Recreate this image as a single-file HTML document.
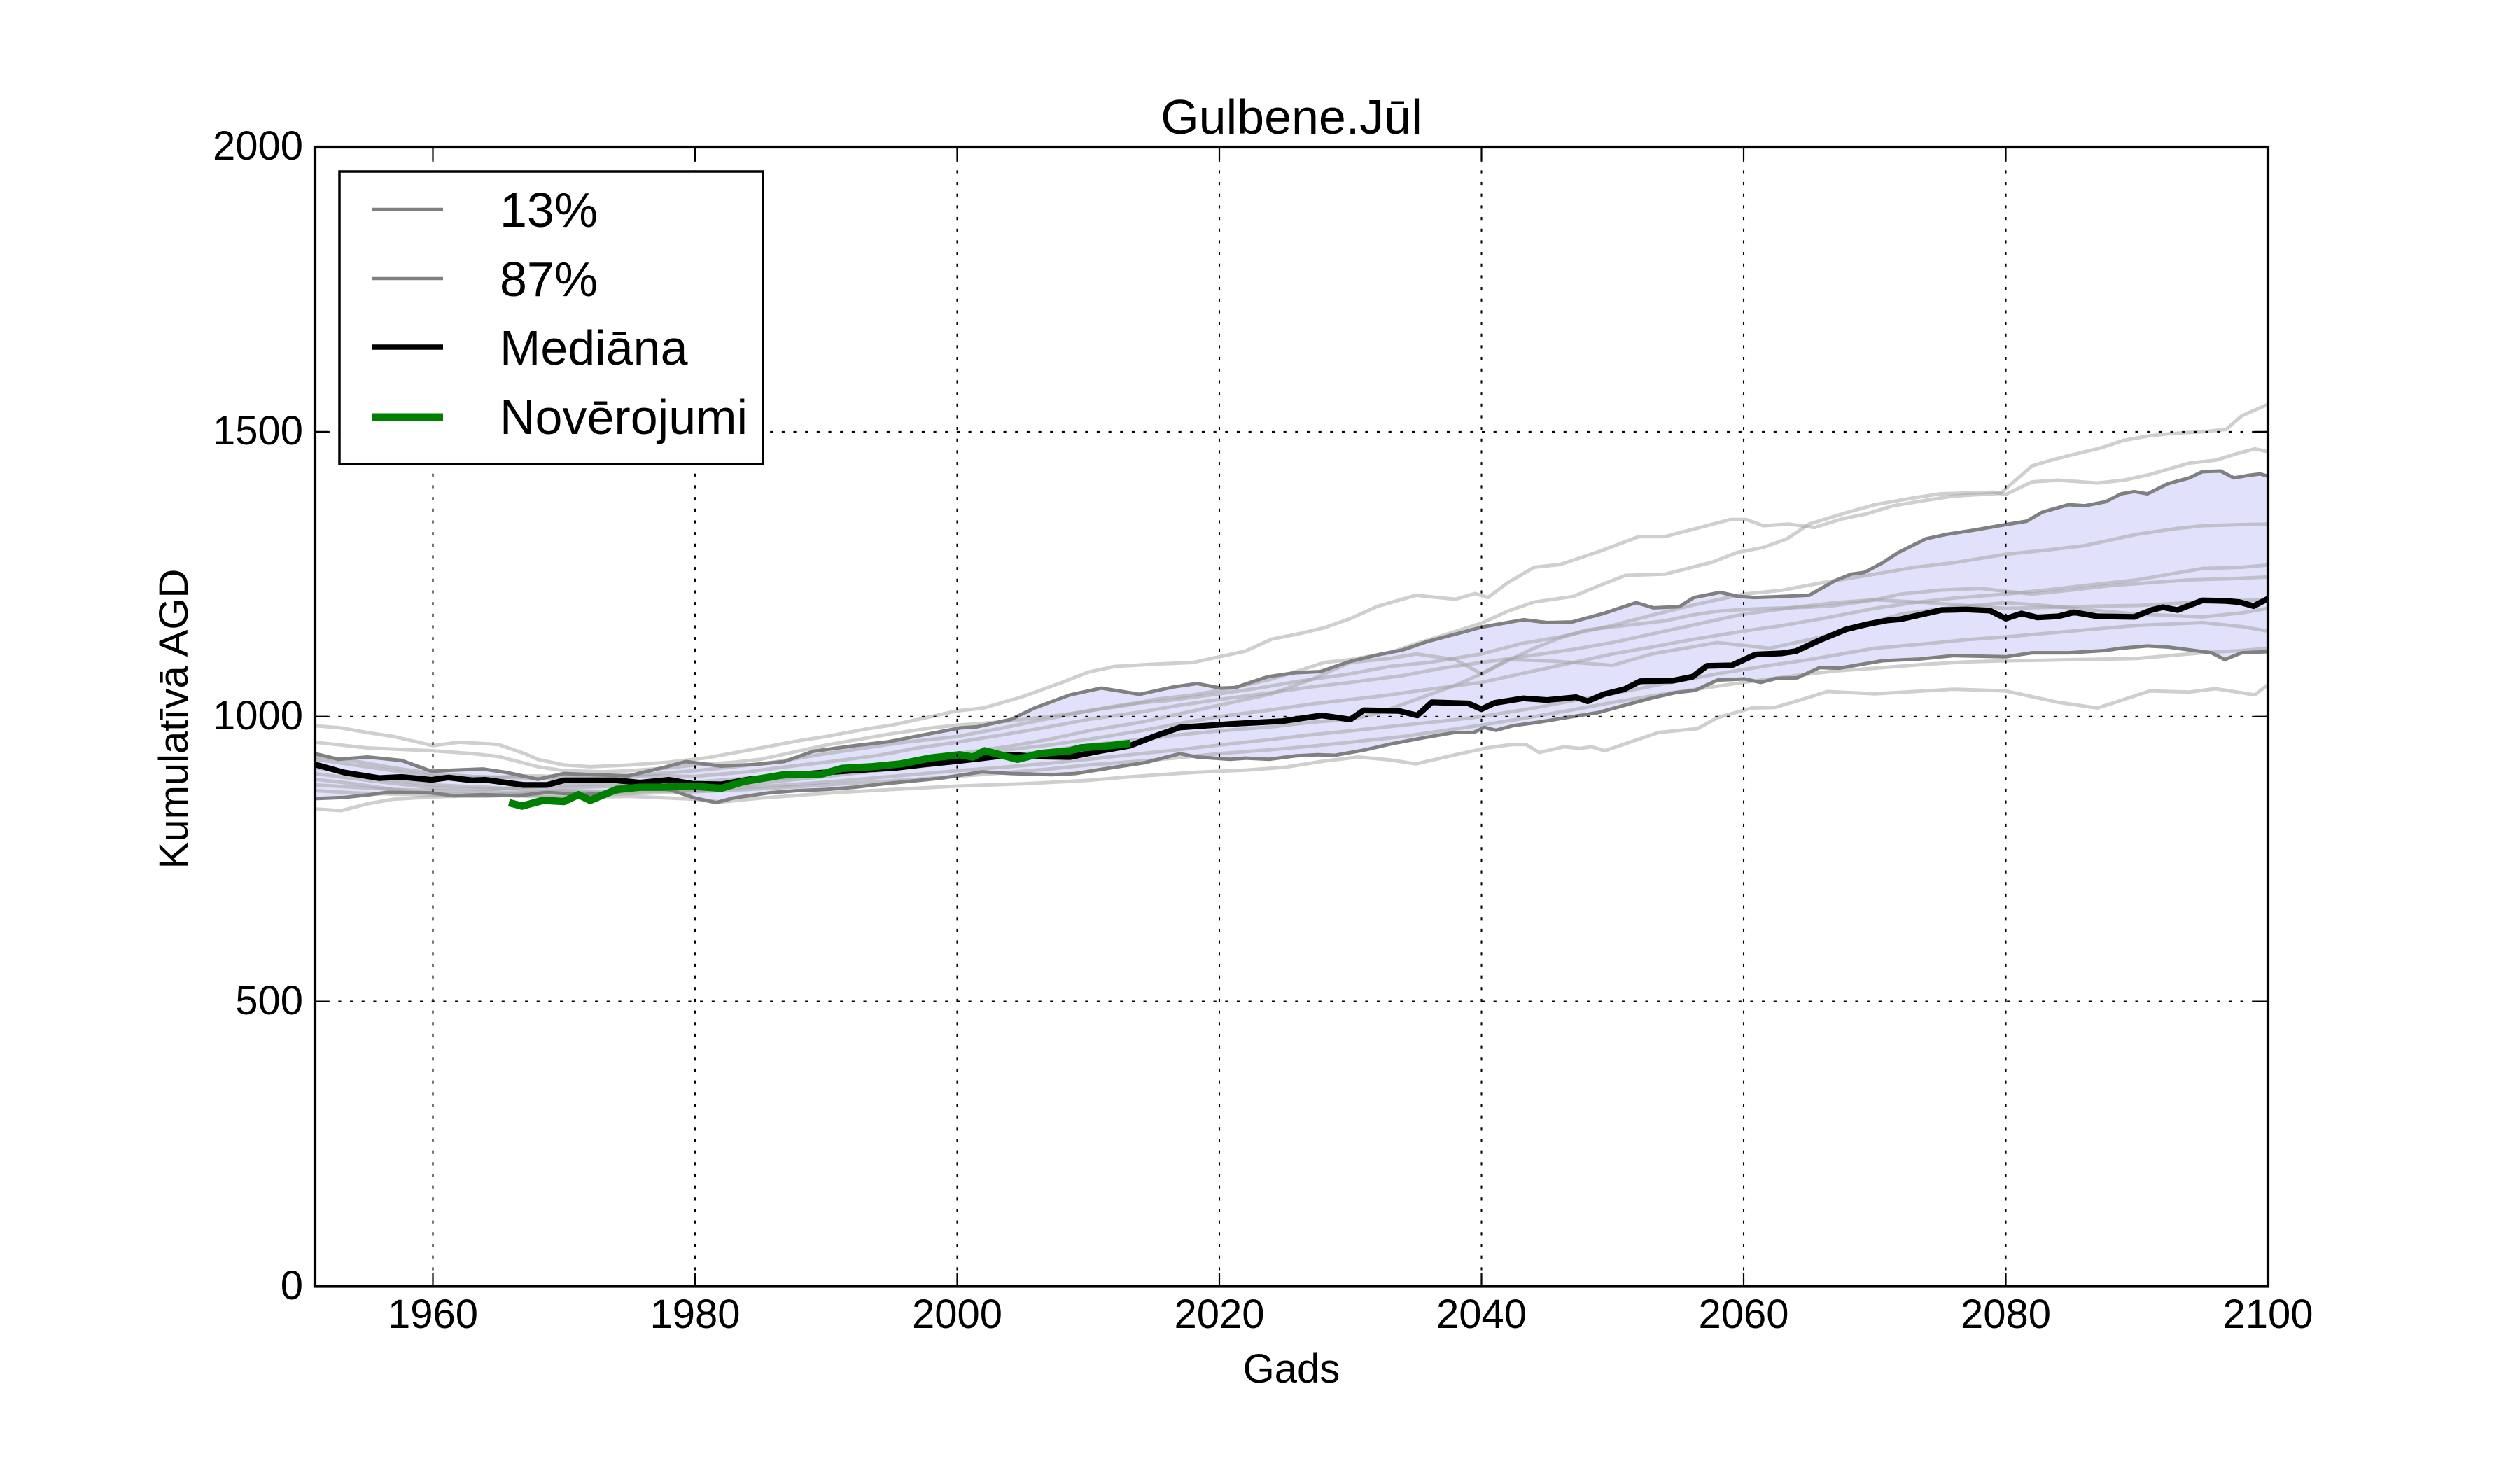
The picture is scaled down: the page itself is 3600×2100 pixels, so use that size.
<!DOCTYPE html>
<html><head><meta charset="utf-8"><style>
html,body{margin:0;padding:0;background:#fff;}
svg{display:block;}
text{font-family:"Liberation Sans",Arial,sans-serif;fill:#000;}
</style></head><body>
<svg width="3600" height="2100" viewBox="0 0 3600 2100" xmlns="http://www.w3.org/2000/svg">
<defs><clipPath id="ax"><rect x="450" y="210" width="2790" height="1627.5"/></clipPath></defs>
<rect width="3600" height="2100" fill="#fff"/>
<g clip-path="url(#ax)">
<g transform="matrix(18.7248 0 0 -0.81375 -36082.085 1837.5)" fill="none" stroke-linejoin="round" stroke-linecap="butt">
<polygon vector-effect="non-scaling-stroke" fill="#e1e1fb" stroke="none" points="1951,935 1952.8,925 1955,929 1957.6,923 1959.9,904 1961.6,906 1963.8,908 1965.6,902 1968,890 1970,900 1972.2,898 1974.9,896 1977.5,910 1979.3,921 1982,913 1984.6,916 1986.8,921 1989,939 1992.2,949 1994.8,956 1997.9,970 2000.2,980 2001.5,982 2004.1,995 2005.9,1015 2008.6,1038 2011,1050 2012.6,1044 2013.9,1039 2016.5,1052 2018.3,1058 2020.1,1050 2021.2,1051 2023.7,1070 2025.8,1077 2027.7,1079 2030,1097 2032.2,1109 2034,1117 2035.9,1132 2038.4,1147 2040,1157 2043.2,1170 2045,1165 2046.9,1166 2049.3,1181 2051.8,1200 2053.1,1191 2055.1,1193 2056.2,1209 2058.2,1218 2059.6,1211 2060.8,1209 2062,1210 2065,1213 2067,1239 2068.2,1250 2069.2,1253 2070.6,1270 2071.8,1288 2073.9,1312 2075.5,1320 2077.5,1327 2080,1337 2081.6,1343 2082.8,1359 2084.8,1372 2086,1370 2087.6,1377 2088.8,1391 2089.8,1395 2090.8,1391 2092.4,1409 2094,1419 2095,1430 2096.4,1431 2097.4,1419 2098.4,1423 2099.4,1426 2100,1422 2100,1114 2098,1112 2096.7,1100 2095.7,1112 2092.4,1122 2090.8,1124 2088.8,1120 2087.6,1116 2084.8,1112 2082,1112 2080,1105 2076,1107 2073.4,1101 2070.6,1098 2067.3,1085 2065.8,1086 2064.1,1068 2062.5,1067 2061.3,1060 2060.1,1066 2058,1064 2056.3,1046 2054.8,1042 2052.9,1032 2051.1,1021 2048.9,1007 2046.7,999 2044.3,990 2042.4,984 2041.1,976 2040.2,981 2039.4,972 2037.9,972 2035.4,962 2033.1,952 2031,941 2028.8,932 2027.5,933 2025.8,931 2023.8,925 2022,927 2020.8,925 2018.3,929 2017,935 2014.3,919 2011.7,910 2009,900 2007.2,898 2004.1,900 2001.9,903 1998.8,892 1997.1,888 1994.4,882 1992.2,876 1990,872 1987.8,870 1985.6,866 1982.9,857 1981.6,849 1980,857 1978,872 1975.8,878 1974,867 1971.3,863 1968.7,867 1966.5,861 1963.8,863 1961.6,861 1959.9,866 1956.5,867 1955.2,863 1953.2,858 1951,856"/>
<g stroke="rgb(160,160,160)" stroke-opacity="0.5" stroke-width="5">
<polyline vector-effect="non-scaling-stroke" points="1951,984 1953,980 1955,972 1957,965 1960,949 1962,955 1965,951 1967,935 1968,925 1970,915 1972,912 1975,915 1978,920 1981,928 1985,945 1988,958 1990,965 1993,978 1995,985 1998,1000 2000,1010 2002,1015 2005,1035 2008,1060 2010,1078 2012,1088 2015,1092 2018,1095 2020,1105 2022,1115 2024,1136 2026,1145 2028,1156 2030,1172 2032,1193 2035,1213 2038,1206 2039.5,1216 2040.5,1209 2042,1235 2044,1262 2046,1267 2049,1290 2052,1316 2054,1316 2055,1322 2057.5,1337 2059,1346 2060.2,1346 2061.5,1335 2063.4,1338 2065.4,1332 2067.5,1347 2069.4,1356 2071.4,1370 2074,1380 2076,1387 2079.6,1392 2082,1440 2083.6,1451 2085.5,1462 2087.3,1472 2089,1485 2091,1493 2092.7,1497 2095,1500 2096.8,1504 2098,1528 2100,1548"/>
<polyline vector-effect="non-scaling-stroke" points="1951,955 1953,950 1955,945 1958,942 1960,940 1963,935 1965,930 1968,912 1970,905 1973,903 1975,905 1978,910 1980,915 1983,920 1985,925 1988,940 1990,950 1993,962 1995,970 1998,980 2000,985 2003,990 2005,995 2008,1003 2010,1010 2013,1020 2015,1030 2018,1038 2021,1050 2024,1066 2026,1080 2028,1095 2030,1100 2033,1112 2035,1128 2037,1142 2040,1164 2042,1185 2044,1201 2047,1211 2049,1230 2051,1248 2054,1250 2057.6,1271 2059.5,1288 2061.5,1297 2063.3,1312 2065,1338 2068,1359 2070,1372 2073,1384 2075,1391 2079,1394 2080,1390 2082,1412 2084,1415 2087,1410 2089,1415 2091,1425 2094,1445 2096,1450 2097.7,1462 2099,1470 2100,1465"/>
<polyline vector-effect="non-scaling-stroke" points="1951,838 1953,835 1955,847 1957,855 1960,859 1965,862 1970,858 1975,860 1980,855 1982,850 1985,857 1991,867 1995,872 2000,878 2005,882 2010,888 2013,894 2018,902 2022,906 2025,911 2028,922 2030.6,929 2033,924 2035,917 2038,933 2040.4,945 2042.3,951 2043.4,951 2044.4,937 2046.3,947 2047.5,944 2048.4,947 2049.4,940 2053.5,972 2056.5,979 2058,998 2060.6,1015 2062.4,1016 2064.3,1029 2066.4,1044 2070,1040 2076,1048 2080,1045 2084,1025 2087,1015 2089,1030 2091,1045 2094,1043 2096,1049 2099,1038 2100,1056"/>
<polyline vector-effect="non-scaling-stroke" points="1951,930 1954,922 1957,910 1960,900 1963,895 1966,893 1970,890 1973,895 1976,898 1980,905 1983,912 1986,920 1990,935 1993,945 1996,955 2000,965 2003,978 2006,992 2010,1010 2013,1022 2016,1028 2020,1040 2023,1050 2026,1062 2030,1075 2033,1088 2036,1095 2040,1110 2043,1128 2046,1140 2050,1160 2053,1178 2056,1195 2060,1215 2063,1222 2066,1235 2070,1250 2073,1262 2076,1270 2080,1285 2083,1292 2086,1300 2088,1310 2090,1320 2093,1330 2095,1335 2098,1337 2100,1338"/>
<polyline vector-effect="non-scaling-stroke" points="1951,910 1954,900 1957,888 1960,880 1964,876 1967,872 1970,875 1974,878 1977,882 1980,885 1984,892 1987,898 1990,905 1994,915 1997,922 2000,930 2004,942 2007,950 2010,960 2014,975 2017,988 2020,1000 2024,1012 2027,1022 2030,1030 2033,1038 2036,1048 2040,1060 2043,1075 2046,1090 2050,1110 2053,1122 2056,1135 2060,1150 2063,1160 2066,1172 2070,1190 2073,1200 2076,1208 2080,1215 2083,1222 2086,1230 2090,1240 2093,1252 2095,1260 2098,1262 2100,1266"/>
<polyline vector-effect="non-scaling-stroke" points="1951,900 1955,888 1958,880 1960,875 1964,872 1967,876 1970,880 1974,882 1977,878 1980,880 1984,886 1987,892 1990,900 1994,912 1997,925 2000,935 2004,948 2007,960 2010,975 2014,990 2018,1010 2021,1025 2024,1040 2027,1065 2030,1095 2033,1102 2035,1110 2038,1100 2040,1075 2042,1100 2045,1098 2047,1095 2050,1090 2053,1110 2055,1118 2058,1130 2062,1120 2066,1140 2069,1160 2072,1180 2076,1192 2080,1200 2083,1195 2086,1188 2090,1180 2095,1175 2098,1182 2100,1190"/>
<polyline vector-effect="non-scaling-stroke" points="1951,890 1954,882 1957,872 1960,865 1964,862 1967,866 1970,870 1974,868 1977,872 1980,870 1984,880 1987,888 1990,895 1994,905 1997,912 2000,920 2004,932 2007,940 2010,950 2014,960 2017,968 2020,975 2024,982 2027,990 2030,995 2032,1005 2035,1030 2038,1055 2040,1075 2042,1098 2044,1120 2046,1138 2048,1152 2051,1160 2054,1168 2056,1178 2058,1185 2060,1188 2062,1190 2065,1192 2067,1195 2070,1205 2072,1215 2075,1222 2078,1225 2080,1220 2082,1215 2085,1222 2088,1230 2091,1235 2094,1240 2097,1242 2100,1245"/>
<polyline vector-effect="non-scaling-stroke" points="1951,880 1954,876 1957,872 1960,870 1964,868 1967,866 1970,868 1974,866 1977,869 1980,870 1984,876 1987,880 1990,885 1994,893 1997,899 2000,905 2004,912 2007,918 2010,925 2014,935 2017,942 2020,950 2024,960 2027,968 2030,975 2034,985 2037,992 2040,1000 2044,1015 2047,1028 2050,1040 2054,1058 2058,1075 2062,1090 2065,1100 2068,1112 2070,1120 2074,1128 2077,1135 2080,1140 2083,1146 2085,1150 2088,1156 2090,1160 2093,1163 2095,1165 2098,1158 2100,1150"/>
<polyline vector-effect="non-scaling-stroke" points="1951,870 1954,866 1957,864 1960,862 1964,860 1967,863 1970,862 1974,864 1977,866 1980,868 1984,872 1987,876 1990,880 1994,886 1997,890 2000,895 2004,902 2007,908 2010,915 2014,922 2017,928 2020,935 2024,942 2027,948 2030,955 2034,965 2037,975 2040,985 2044,1000 2047,1012 2050,1025 2054,1040 2057,1050 2060,1060 2064,1072 2067,1080 2070,1085 2074,1092 2077,1096 2080,1098 2083,1099 2085,1100 2088,1101 2090,1102 2093,1108 2095,1112 2098,1116 2100,1120"/>
<polyline vector-effect="non-scaling-stroke" points="1951,925 1954,915 1957,905 1960,895 1964,892 1967,896 1970,895 1974,893 1977,896 1980,895 1984,903 1987,912 1990,920 1994,932 1997,945 2000,955 2004,970 2007,982 2010,995 2014,1008 2017,1020 2020,1030 2024,1042 2027,1052 2030,1060 2034,1072 2037,1085 2040,1095 2044,1108 2047,1118 2050,1130 2054,1150 2057,1165 2060,1180 2064,1192 2067,1200 2070,1205 2074,1200 2077,1195 2080,1190 2084,1192 2087,1194 2090,1195 2094,1200 2097,1203 2100,1205"/>
</g>
<g stroke="#808080" stroke-width="5">
<polyline vector-effect="non-scaling-stroke" points="1951,935 1952.8,925 1955,929 1957.6,923 1959.9,904 1961.6,906 1963.8,908 1965.6,902 1968,890 1970,900 1972.2,898 1974.9,896 1977.5,910 1979.3,921 1982,913 1984.6,916 1986.8,921 1989,939 1992.2,949 1994.8,956 1997.9,970 2000.2,980 2001.5,982 2004.1,995 2005.9,1015 2008.6,1038 2011,1050 2012.6,1044 2013.9,1039 2016.5,1052 2018.3,1058 2020.1,1050 2021.2,1051 2023.7,1070 2025.8,1077 2027.7,1079 2030,1097 2032.2,1109 2034,1117 2035.9,1132 2038.4,1147 2040,1157 2043.2,1170 2045,1165 2046.9,1166 2049.3,1181 2051.8,1200 2053.1,1191 2055.1,1193 2056.2,1209 2058.2,1218 2059.6,1211 2060.8,1209 2062,1210 2065,1213 2067,1239 2068.2,1250 2069.2,1253 2070.6,1270 2071.8,1288 2073.9,1312 2075.5,1320 2077.5,1327 2080,1337 2081.6,1343 2082.8,1359 2084.8,1372 2086,1370 2087.6,1377 2088.8,1391 2089.8,1395 2090.8,1391 2092.4,1409 2094,1419 2095,1430 2096.4,1431 2097.4,1419 2098.4,1423 2099.4,1426 2100,1422"/>
<polyline vector-effect="non-scaling-stroke" points="1951,856 1953.2,858 1955.2,863 1956.5,867 1959.9,866 1961.6,861 1963.8,863 1966.5,861 1968.7,867 1971.3,863 1974,867 1975.8,878 1978,872 1980,857 1981.6,849 1982.9,857 1985.6,866 1987.8,870 1990,872 1992.2,876 1994.4,882 1997.1,888 1998.8,892 2001.9,903 2004.1,900 2007.2,898 2009,900 2011.7,910 2014.3,919 2017,935 2018.3,929 2020.8,925 2022,927 2023.8,925 2025.8,931 2027.5,933 2028.8,932 2031,941 2033.1,952 2035.4,962 2037.9,972 2039.4,972 2040.2,981 2041.1,976 2042.4,984 2044.3,990 2046.7,999 2048.9,1007 2051.1,1021 2052.9,1032 2054.8,1042 2056.3,1046 2058,1064 2060.1,1066 2061.3,1060 2062.5,1067 2064.1,1068 2065.8,1086 2067.3,1085 2070.6,1098 2073.4,1101 2076,1107 2080,1105 2082,1112 2084.8,1112 2087.6,1116 2088.8,1120 2090.8,1124 2092.4,1122 2095.7,1112 2096.7,1100 2098,1112 2100,1114"/>
</g>
<polyline vector-effect="non-scaling-stroke" stroke="#000" stroke-width="8.3" points="1951,916 1953.2,902 1955.9,892 1957.6,894 1959.9,889 1961.2,893 1963,888 1964,889 1966.9,880 1968.7,880 1970,888 1974,888 1975.8,884 1978,889 1979.8,882 1982,881 1984.2,890 1987,897 1990,902 1992.5,906 1995.3,910 1997.5,916 1999.7,921 2002,927 2004.1,933 2006,930 2008.6,929 2011,940 2013.2,949 2015,965 2017,981 2020.8,987 2024.8,992 2027.8,1002 2030,995 2031,1011 2033.7,1010 2035.1,1002 2036.2,1025 2039,1023 2040,1013 2041,1024 2043.2,1032 2045,1029 2047.2,1034 2048.1,1027 2049.3,1039 2050.9,1048 2052.1,1062 2054.6,1063 2056.1,1070 2057.2,1089 2059.1,1090 2060.9,1109 2062.9,1111 2064,1115 2065.8,1134 2067.8,1153 2069.4,1162 2071,1169 2072,1171 2075.1,1187 2077,1188 2078.8,1186 2080,1172 2081.2,1181 2082.4,1174 2084,1176 2085.2,1183 2087,1176 2089.8,1175 2091.1,1187 2092,1192 2093.1,1187 2095,1204 2096.8,1203 2097.8,1201 2098.9,1194 2100,1207"/>
<polyline vector-effect="non-scaling-stroke" stroke="#008000" stroke-width="10.5" points="1965.8,849 1966.8,843 1968.4,853 1970,851 1971.1,863 1972,853 1974,872 1975.8,876 1977.5,876 1979.8,878 1982,874 1983.7,886 1986.8,898 1989.5,898 1991.2,909 1993.5,912 1995.7,917 1997.9,927 2000.2,933 2001.2,929 2002.1,940 2004.6,925 2006.3,935 2008.6,940 2009.4,945 2011.7,949 2013.2,953"/>
</g>
</g>
<!-- grid -->
<g stroke="#000" stroke-width="2.08" stroke-dasharray="4.17 12.5" fill="none">
<line x1="618.5" y1="210" x2="618.5" y2="1837.5"/>
<line x1="993" y1="210" x2="993" y2="1837.5"/>
<line x1="1367.5" y1="210" x2="1367.5" y2="1837.5"/>
<line x1="1742" y1="210" x2="1742" y2="1837.5"/>
<line x1="2116.5" y1="210" x2="2116.5" y2="1837.5"/>
<line x1="2491" y1="210" x2="2491" y2="1837.5"/>
<line x1="2865.5" y1="210" x2="2865.5" y2="1837.5"/>
<line x1="450" y1="1430.6" x2="3240" y2="1430.6"/>
<line x1="450" y1="1023.75" x2="3240" y2="1023.75"/>
<line x1="450" y1="616.9" x2="3240" y2="616.9"/>
</g>
<!-- ticks -->
<g stroke="#000" stroke-width="2.2">
<line x1="618.5" y1="1837.5" x2="618.5" y2="1819"/><line x1="993" y1="1837.5" x2="993" y2="1819"/><line x1="1367.5" y1="1837.5" x2="1367.5" y2="1819"/><line x1="1742" y1="1837.5" x2="1742" y2="1819"/><line x1="2116.5" y1="1837.5" x2="2116.5" y2="1819"/><line x1="2491" y1="1837.5" x2="2491" y2="1819"/><line x1="2865.5" y1="1837.5" x2="2865.5" y2="1819"/>
<line x1="618.5" y1="210" x2="618.5" y2="228.5"/><line x1="993" y1="210" x2="993" y2="228.5"/><line x1="1367.5" y1="210" x2="1367.5" y2="228.5"/><line x1="1742" y1="210" x2="1742" y2="228.5"/><line x1="2116.5" y1="210" x2="2116.5" y2="228.5"/><line x1="2491" y1="210" x2="2491" y2="228.5"/><line x1="2865.5" y1="210" x2="2865.5" y2="228.5"/>
<line x1="450" y1="1430.6" x2="468.5" y2="1430.6"/><line x1="450" y1="1023.75" x2="468.5" y2="1023.75"/><line x1="450" y1="616.9" x2="468.5" y2="616.9"/>
<line x1="3240" y1="1430.6" x2="3221.5" y2="1430.6"/><line x1="3240" y1="1023.75" x2="3221.5" y2="1023.75"/><line x1="3240" y1="616.9" x2="3221.5" y2="616.9"/>
</g>
<rect x="450" y="210" width="2790" height="1627.5" fill="none" stroke="#000" stroke-width="4.2"/>
<!-- tick labels -->
<g font-size="58" text-anchor="middle">
<text x="618.5" y="1897">1960</text><text x="993" y="1897">1980</text><text x="1367.5" y="1897">2000</text><text x="1742" y="1897">2020</text><text x="2116.5" y="1897">2040</text><text x="2491" y="1897">2060</text><text x="2865.5" y="1897">2080</text><text x="3240" y="1897">2100</text>
</g>
<g font-size="58" text-anchor="end">
<text x="433" y="1856">0</text><text x="433" y="1449">500</text><text x="433" y="1042">1000</text><text x="433" y="635">1500</text><text x="433" y="228">2000</text>
</g>
<text x="1845" y="1975" font-size="58" text-anchor="middle">Gads</text>
<text transform="translate(268,1027) rotate(-90)" font-size="58" text-anchor="middle">Kumulatīvā AGD</text>
<text x="1845" y="191" font-size="70" text-anchor="middle">Gulbene.Jūl</text>
<!-- legend -->
<rect x="485" y="245" width="605" height="418" fill="#fff" stroke="#000" stroke-width="3.5"/>
<line x1="532" y1="299" x2="633" y2="299" stroke="#808080" stroke-width="4.5"/>
<line x1="532" y1="398" x2="633" y2="398" stroke="#808080" stroke-width="4.5"/>
<line x1="532" y1="496" x2="633" y2="496" stroke="#000" stroke-width="7.5"/>
<line x1="532" y1="596" x2="633" y2="596" stroke="#008000" stroke-width="11"/>
<g font-size="70">
<text x="714" y="324">13%</text>
<text x="714" y="423">87%</text>
<text x="714" y="521">Mediāna</text>
<text x="714" y="620">Novērojumi</text>
</g>
</svg>
</body></html>
